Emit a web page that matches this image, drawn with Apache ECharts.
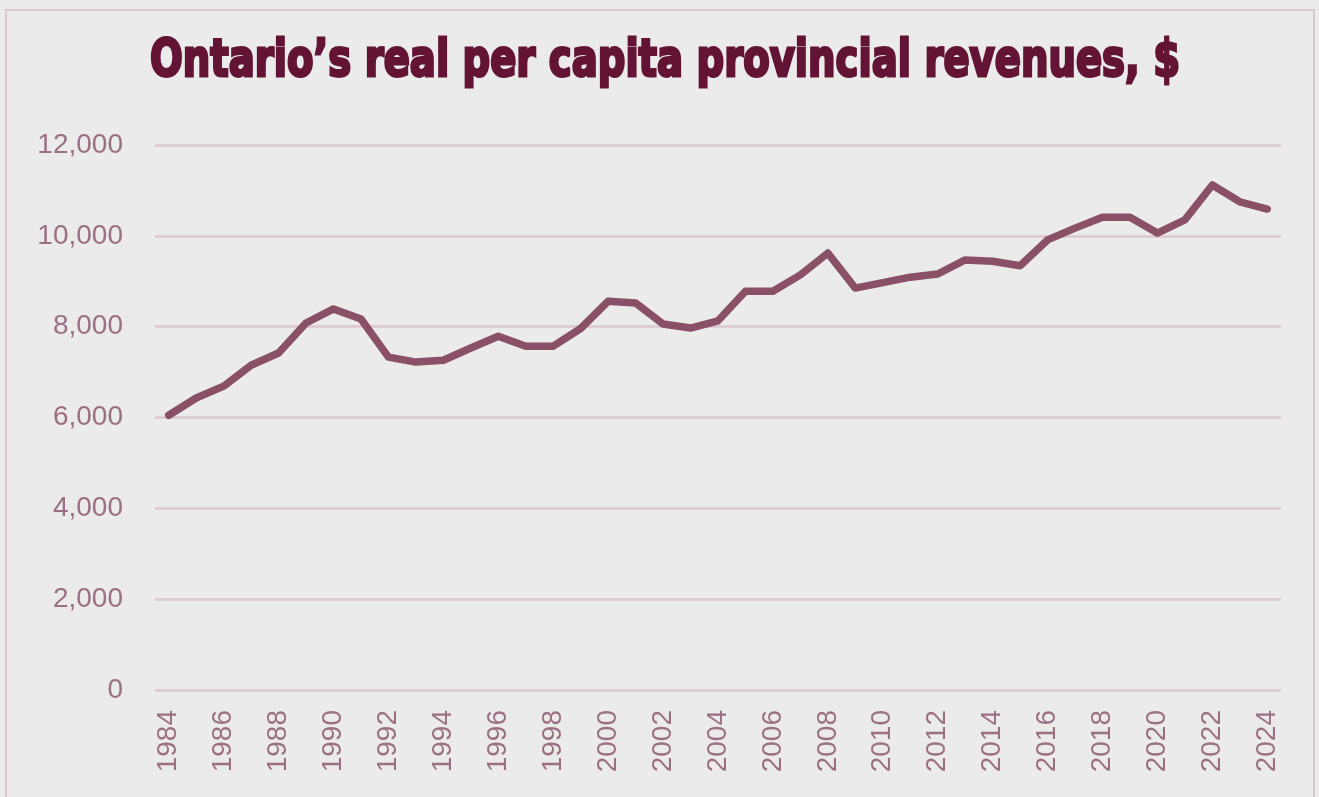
<!DOCTYPE html>
<html>
<head>
<meta charset="utf-8">
<script src="https://cdn.jsdelivr.net/npm/echarts@6/dist/echarts.min.js"></script>
<style>
  html, body { margin: 0; padding: 0; background: #ebebeb; }
  #chart { width: 1319px; height: 797px; }
</style>
</head>
<body>
<div id="chart"></div>
<script>
// years shown on the x axis
const years = [];
for (let y = 1984; y <= 2024; y++) years.push(String(y));

// real per capita provincial revenues, $
const revenues = [
  6050, 6430, 6690, 7150, 7420, 8080, 8390, 8170, 7330, 7220,
  7260, 7530, 7790, 7570, 7570, 7960, 8560, 8520, 8060, 7970,
  8130, 8780, 8780, 9140, 9620, 8850, 8970, 9090, 9160, 9470,
  9440, 9340, 9910, 10170, 10410, 10410, 10060, 10350, 11120, 10750,
  10590
];

const yTicks = [0, 2000, 4000, 6000, 8000, 10000, 12000];

const titleText = "Ontario\u2019s real per capita provincial revenues, $";
const titleFamily = "DejaVu Sans";
const titleSize = 52;

// squeeze the title to the width it has in the picture
const ctx = document.createElement("canvas").getContext("2d");
ctx.font = "bold " + titleSize + "px '" + titleFamily + "'";
const titleScale = 1030 / ctx.measureText(titleText).width;

const chart = echarts.init(document.getElementById("chart"));

chart.setOption({
  backgroundColor: "#ebebeb",
  animation: false,
  graphic: [
    {
      type: "rect",
      shape: { x: 6, y: 10, width: 1308, height: 800 },
      style: { fill: "none", stroke: "#d9cbd0", lineWidth: 2 },
      silent: true
    },
    {
      type: "text",
      x: 150,
      y: 88,
      scaleX: titleScale,
      style: {
        text: titleText,
        fontFamily: titleFamily,
        fontWeight: "bold",
        fontStyle: "normal",
        fontSize: titleSize,
        fill: "#631434",
        stroke: "#631434",
        lineWidth: 3,
        verticalAlign: "bottom"
      },
      silent: true
    }
  ],
  grid: { left: 155, right: 38, top: 145, bottom: 107 },
  xAxis: {
    type: "category",
    data: years,
    boundaryGap: true,
    axisLine: { show: false },
    axisTick: { show: false },
    axisLabel: {
      interval: 1,
      rotate: 90,
      margin: 20,
      color: "#9c7084",
      fontFamily: "Liberation Sans",
      fontSize: 28
    }
  },
  yAxis: {
    type: "value",
    min: 0,
    max: 12000,
    interval: 2000,
    axisLine: { show: false },
    axisTick: { show: false },
    splitLine: { lineStyle: { color: "#dcc7ce", width: 2.5 } },
    axisLabel: {
      margin: 32,
      color: "#9c7084",
      fontFamily: "Liberation Sans",
      fontSize: 28,
      formatter: v => yTicks.includes(v) ? v.toLocaleString("en-US") : ""
    }
  },
  series: [
    {
      type: "line",
      data: revenues,
      symbol: "none",
      lineStyle: { color: "#8a5068", width: 7.5, join: "round", cap: "round" }
    }
  ]
});
</script>
</body>
</html>
